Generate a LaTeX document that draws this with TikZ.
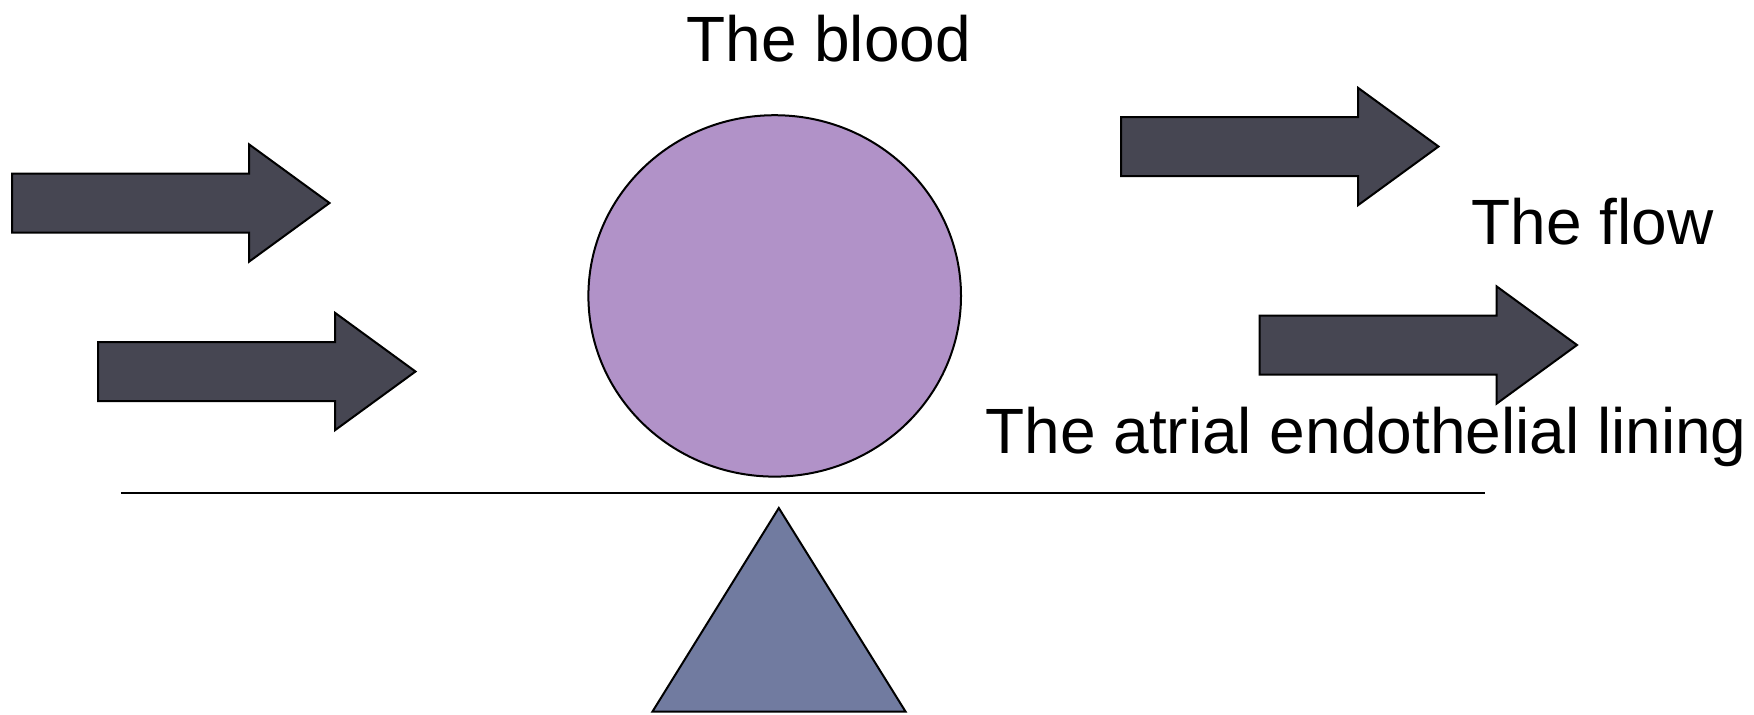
\documentclass[tikz,border=0pt]{standalone}
\usepackage{fontspec}
\setmainfont{Liberation Sans}
\definecolor{arrowgray}{RGB}{70,70,82}
\definecolor{bloodviolet}{RGB}{177,146,200}
\definecolor{baseblue}{RGB}{113,123,160}
\tikzset{
  outline/.style={draw=black,line width=1pt,line join=miter},
  arrowbody/.style={outline,fill=arrowgray},
  lbl/.style={inner sep=0pt,anchor=base west,font=\fontsize{32}{38}\selectfont},
  flowarrow/.pic={\path[arrowbody] (0,-29.5) -- (237,-29.5) -- (237,-58.7) -- (317.5,0) -- (237,58.7) -- (237,29.5) -- (0,29.5) -- cycle;}
}
\begin{document}
\begin{tikzpicture}[x=0.5pt,y=-0.5pt]
\useasboundingbox (0,0) rectangle (1754,714);
% flow arrows
\pic (a1) at (12,203) {flowarrow};
\pic (a2) at (98,371.5) {flowarrow};
\pic (a3) at (1121,146.5) {flowarrow};
\pic (a4) at (1259.5,345) {flowarrow};
% blood cell
\path[outline,fill=bloodviolet] (774.7,295.9) ellipse [x radius=186.3, y radius=180.7];
% endothelial lining
\coordinate (l1) at (120.8,492.5);
\coordinate (l2) at (1484.5,492.5);
\draw[line width=1pt] (l1) -- (l2);
% fulcrum
\path[outline,fill=baseblue] (778.8,508) -- (905.5,711.5) -- (652.5,711.5) -- cycle;
% labels
\node[lbl] (blood) at (686,61.5) {The blood};
\node[lbl] (flow) at (1471,244) {The flow};
\node[lbl] (lining) at (985,453) {The atrial endothelial lining};
\end{tikzpicture}
\end{document}
